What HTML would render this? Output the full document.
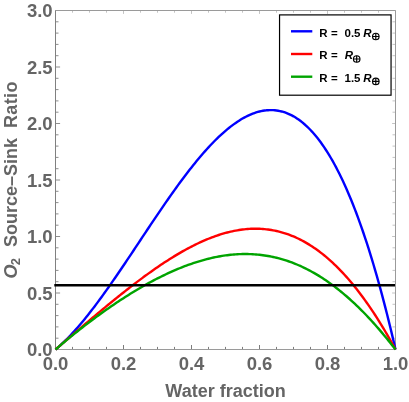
<!DOCTYPE html>
<html><head><meta charset="utf-8"><title>chart</title>
<style>
html,body{margin:0;padding:0;background:#fff;}
body{width:409px;height:402px;overflow:hidden;}
svg{display:block;font-family:"Liberation Sans",sans-serif;font-weight:bold;}
text{filter:grayscale(1);}
.tl text{font-size:18.5px;fill:#656565;}
.ax{font-size:18px;fill:#656565;white-space:pre;}
.lg text{font-size:11.5px;fill:#000;white-space:pre;}
</style></head><body>
<svg width="409" height="402" viewBox="0 0 409 402">
<rect width="409" height="402" fill="#fff"/>
<g fill="none" stroke-width="1">
<path d="M55.50,10.50 v3.40 M72.50,10.50 v2.20 M89.50,10.50 v2.20 M106.50,10.50 v2.20 M123.50,10.50 v3.40 M140.50,10.50 v2.20 M157.50,10.50 v2.20 M174.50,10.50 v2.20 M191.50,10.50 v3.40 M208.50,10.50 v2.20 M225.50,10.50 v2.20 M242.50,10.50 v2.20 M259.50,10.50 v3.40 M276.50,10.50 v2.20 M293.50,10.50 v2.20 M310.50,10.50 v2.20 M327.50,10.50 v3.40 M344.50,10.50 v2.20 M361.50,10.50 v2.20 M378.50,10.50 v2.20 M395.50,10.50 v3.40" stroke="#c4c4c4"/>
<path d="M395.50,349.50 h-3.40 M395.50,338.20 h-3.00 M395.50,326.90 h-3.00 M395.50,315.60 h-3.00 M395.50,304.30 h-3.00 M395.50,293.00 h-3.40 M395.50,281.70 h-3.00 M395.50,270.40 h-3.00 M395.50,259.10 h-3.00 M395.50,247.80 h-3.00 M395.50,236.50 h-3.40 M395.50,225.20 h-3.00 M395.50,213.90 h-3.00 M395.50,202.60 h-3.00 M395.50,191.30 h-3.00 M395.50,180.00 h-3.40 M395.50,168.70 h-3.00 M395.50,157.40 h-3.00 M395.50,146.10 h-3.00 M395.50,134.80 h-3.00 M395.50,123.50 h-3.40 M395.50,112.20 h-3.00 M395.50,100.90 h-3.00 M395.50,89.60 h-3.00 M395.50,78.30 h-3.00 M395.50,67.00 h-3.40 M395.50,55.70 h-3.00 M395.50,44.40 h-3.00 M395.50,33.10 h-3.00 M395.50,21.80 h-3.00 M395.50,10.50 h-3.40" stroke="#c4c4c4"/>
<path d="M55.50,349.50 v-4.50 M72.50,349.50 v-2.60 M89.50,349.50 v-2.60 M106.50,349.50 v-2.60 M123.50,349.50 v-4.50 M140.50,349.50 v-2.60 M157.50,349.50 v-2.60 M174.50,349.50 v-2.60 M191.50,349.50 v-4.50 M208.50,349.50 v-2.60 M225.50,349.50 v-2.60 M242.50,349.50 v-2.60 M259.50,349.50 v-4.50 M276.50,349.50 v-2.60 M293.50,349.50 v-2.60 M310.50,349.50 v-2.60 M327.50,349.50 v-4.50 M344.50,349.50 v-2.60 M361.50,349.50 v-2.60 M378.50,349.50 v-2.60 M395.50,349.50 v-4.50" stroke="#7c7c7c"/>
<path d="M55.50,349.50 h4.60 M55.50,338.20 h3.00 M55.50,326.90 h3.00 M55.50,315.60 h3.00 M55.50,304.30 h3.00 M55.50,293.00 h4.60 M55.50,281.70 h3.00 M55.50,270.40 h3.00 M55.50,259.10 h3.00 M55.50,247.80 h3.00 M55.50,236.50 h4.60 M55.50,225.20 h3.00 M55.50,213.90 h3.00 M55.50,202.60 h3.00 M55.50,191.30 h3.00 M55.50,180.00 h4.60 M55.50,168.70 h3.00 M55.50,157.40 h3.00 M55.50,146.10 h3.00 M55.50,134.80 h3.00 M55.50,123.50 h4.60 M55.50,112.20 h3.00 M55.50,100.90 h3.00 M55.50,89.60 h3.00 M55.50,78.30 h3.00 M55.50,67.00 h4.60 M55.50,55.70 h3.00 M55.50,44.40 h3.00 M55.50,33.10 h3.00 M55.50,21.80 h3.00 M55.50,10.50 h4.60" stroke="#8e8e8e"/>
<path d="M55.5,10.5 H395.5 V349.5 H55.5" stroke="#9a9a9a"/>
<path d="M55.5,10.5 V349.5" stroke="#808080"/>
</g>
<g fill="none" stroke-width="2.4" stroke-linejoin="round">
<path d="M55.50,349.50 L57.20,348.06 L58.90,346.58 L60.60,345.05 L62.30,343.48 L64.00,341.86 L65.70,340.19 L67.40,338.49 L69.10,336.75 L70.80,334.96 L72.50,333.14 L74.20,331.28 L75.90,329.38 L77.60,327.45 L79.30,325.48 L81.00,323.48 L82.70,321.45 L84.40,319.39 L86.10,317.29 L87.80,315.17 L89.50,313.02 L91.20,310.84 L92.90,308.63 L94.60,306.40 L96.30,304.14 L98.00,301.86 L99.70,299.56 L101.40,297.23 L103.10,294.89 L104.80,292.53 L106.50,290.14 L108.20,287.74 L109.90,285.32 L111.60,282.89 L113.30,280.44 L115.00,277.98 L116.70,275.51 L118.40,273.02 L120.10,270.52 L121.80,268.01 L123.50,265.49 L125.20,262.97 L126.90,260.43 L128.60,257.89 L130.30,255.35 L132.00,252.80 L133.70,250.24 L135.40,247.69 L137.10,245.13 L138.80,242.57 L140.50,240.01 L142.20,237.45 L143.90,234.89 L145.60,232.33 L147.30,229.78 L149.00,227.23 L150.70,224.69 L152.40,222.15 L154.10,219.62 L155.80,217.10 L157.50,214.58 L159.20,212.08 L160.90,209.58 L162.60,207.10 L164.30,204.63 L166.00,202.17 L167.70,199.72 L169.40,197.29 L171.10,194.88 L172.80,192.48 L174.50,190.10 L176.20,187.73 L177.90,185.39 L179.60,183.06 L181.30,180.76 L183.00,178.47 L184.70,176.21 L186.40,173.98 L188.10,171.76 L189.80,169.57 L191.50,167.41 L193.20,165.27 L194.90,163.16 L196.60,161.08 L198.30,159.03 L200.00,157.01 L201.70,155.01 L203.40,153.05 L205.10,151.12 L206.80,149.23 L208.50,147.37 L210.20,145.54 L211.90,143.75 L213.60,142.00 L215.30,140.28 L217.00,138.60 L218.70,136.96 L220.40,135.36 L222.10,133.80 L223.80,132.28 L225.50,130.81 L227.20,129.38 L228.90,127.99 L230.60,126.65 L232.30,125.35 L234.00,124.10 L235.70,122.90 L237.40,121.74 L239.10,120.64 L240.80,119.58 L242.50,118.57 L244.20,117.62 L245.90,116.72 L247.60,115.87 L249.30,115.08 L251.00,114.34 L252.70,113.66 L254.40,113.03 L256.10,112.47 L257.80,111.96 L259.50,111.51 L261.20,111.12 L262.90,110.79 L264.60,110.52 L266.30,110.32 L268.00,110.18 L269.70,110.10 L271.40,110.09 L273.10,110.15 L274.80,110.27 L276.50,110.47 L278.20,110.73 L279.90,111.06 L281.60,111.46 L283.30,111.93 L285.00,112.48 L286.70,113.10 L288.40,113.79 L290.10,114.56 L291.80,115.40 L293.50,116.33 L295.20,117.33 L296.90,118.41 L298.60,119.56 L300.30,120.80 L302.00,122.13 L303.70,123.53 L305.40,125.02 L307.10,126.59 L308.80,128.25 L310.50,129.99 L312.20,131.82 L313.90,133.74 L315.60,135.75 L317.30,137.85 L319.00,140.04 L320.70,142.32 L322.40,144.70 L324.10,147.17 L325.80,149.73 L327.50,152.39 L329.20,155.15 L330.90,158.01 L332.60,160.96 L334.30,164.02 L336.00,167.17 L337.70,170.43 L339.40,173.79 L341.10,177.26 L342.80,180.83 L344.50,184.50 L346.20,188.29 L347.90,192.18 L349.60,196.18 L351.30,200.29 L353.00,204.52 L354.70,208.85 L356.40,213.30 L358.10,217.86 L359.80,222.54 L361.50,227.34 L363.20,232.25 L364.90,237.29 L366.60,242.44 L368.30,247.71 L370.00,253.11 L371.70,258.63 L373.40,264.27 L375.10,270.04 L376.80,275.94 L378.50,281.96 L380.20,288.12 L381.90,294.40 L383.60,300.82 L385.30,307.36 L387.00,314.05 L388.70,320.86 L390.40,327.81 L392.10,334.90 L393.80,342.13 L395.50,349.50" stroke="#0000ff"/>
<path d="M55.50,349.50 L57.20,348.03 L58.90,346.56 L60.60,345.10 L62.30,343.63 L64.00,342.17 L65.70,340.70 L67.40,339.24 L69.10,337.78 L70.80,336.32 L72.50,334.86 L74.20,333.40 L75.90,331.95 L77.60,330.49 L79.30,329.04 L81.00,327.59 L82.70,326.14 L84.40,324.70 L86.10,323.26 L87.80,321.82 L89.50,320.38 L91.20,318.94 L92.90,317.51 L94.60,316.08 L96.30,314.66 L98.00,313.23 L99.70,311.82 L101.40,310.40 L103.10,308.99 L104.80,307.58 L106.50,306.18 L108.20,304.78 L109.90,303.39 L111.60,302.00 L113.30,300.62 L115.00,299.24 L116.70,297.87 L118.40,296.50 L120.10,295.14 L121.80,293.78 L123.50,292.44 L125.20,291.09 L126.90,289.76 L128.60,288.43 L130.30,287.11 L132.00,285.80 L133.70,284.49 L135.40,283.19 L137.10,281.90 L138.80,280.62 L140.50,279.35 L142.20,278.09 L143.90,276.83 L145.60,275.59 L147.30,274.35 L149.00,273.13 L150.70,271.92 L152.40,270.71 L154.10,269.52 L155.80,268.34 L157.50,267.16 L159.20,266.01 L160.90,264.86 L162.60,263.72 L164.30,262.60 L166.00,261.49 L167.70,260.39 L169.40,259.31 L171.10,258.24 L172.80,257.18 L174.50,256.14 L176.20,255.11 L177.90,254.10 L179.60,253.10 L181.30,252.12 L183.00,251.15 L184.70,250.20 L186.40,249.27 L188.10,248.35 L189.80,247.45 L191.50,246.57 L193.20,245.70 L194.90,244.85 L196.60,244.02 L198.30,243.21 L200.00,242.42 L201.70,241.64 L203.40,240.89 L205.10,240.15 L206.80,239.43 L208.50,238.74 L210.20,238.06 L211.90,237.41 L213.60,236.78 L215.30,236.16 L217.00,235.57 L218.70,235.01 L220.40,234.46 L222.10,233.94 L223.80,233.44 L225.50,232.96 L227.20,232.51 L228.90,232.08 L230.60,231.68 L232.30,231.30 L234.00,230.94 L235.70,230.61 L237.40,230.31 L239.10,230.03 L240.80,229.78 L242.50,229.55 L244.20,229.35 L245.90,229.18 L247.60,229.03 L249.30,228.91 L251.00,228.82 L252.70,228.76 L254.40,228.73 L256.10,228.73 L257.80,228.75 L259.50,228.80 L261.20,228.89 L262.90,229.00 L264.60,229.14 L266.30,229.32 L268.00,229.52 L269.70,229.76 L271.40,230.03 L273.10,230.33 L274.80,230.66 L276.50,231.02 L278.20,231.42 L279.90,231.84 L281.60,232.31 L283.30,232.80 L285.00,233.33 L286.70,233.89 L288.40,234.49 L290.10,235.12 L291.80,235.78 L293.50,236.48 L295.20,237.21 L296.90,237.98 L298.60,238.79 L300.30,239.63 L302.00,240.51 L303.70,241.42 L305.40,242.37 L307.10,243.36 L308.80,244.38 L310.50,245.44 L312.20,246.54 L313.90,247.67 L315.60,248.84 L317.30,250.06 L319.00,251.30 L320.70,252.59 L322.40,253.92 L324.10,255.28 L325.80,256.69 L327.50,258.13 L329.20,259.61 L330.90,261.13 L332.60,262.69 L334.30,264.29 L336.00,265.94 L337.70,267.62 L339.40,269.34 L341.10,271.10 L342.80,272.90 L344.50,274.75 L346.20,276.63 L347.90,278.55 L349.60,280.52 L351.30,282.53 L353.00,284.58 L354.70,286.67 L356.40,288.80 L358.10,290.97 L359.80,293.19 L361.50,295.45 L363.20,297.75 L364.90,300.09 L366.60,302.47 L368.30,304.90 L370.00,307.37 L371.70,309.88 L373.40,312.43 L375.10,315.03 L376.80,317.66 L378.50,320.35 L380.20,323.07 L381.90,325.83 L383.60,328.64 L385.30,331.49 L387.00,334.39 L388.70,337.33 L390.40,340.31 L392.10,343.33 L393.80,346.39 L395.50,349.50" stroke="#ff0000"/>
<path d="M55.50,349.50 L57.20,348.04 L58.90,346.58 L60.60,345.14 L62.30,343.70 L64.00,342.27 L65.70,340.86 L67.40,339.45 L69.10,338.05 L70.80,336.66 L72.50,335.28 L74.20,333.91 L75.90,332.55 L77.60,331.20 L79.30,329.85 L81.00,328.52 L82.70,327.19 L84.40,325.88 L86.10,324.57 L87.80,323.27 L89.50,321.98 L91.20,320.70 L92.90,319.43 L94.60,318.17 L96.30,316.91 L98.00,315.67 L99.70,314.43 L101.40,313.21 L103.10,311.99 L104.80,310.79 L106.50,309.59 L108.20,308.40 L109.90,307.22 L111.60,306.05 L113.30,304.89 L115.00,303.74 L116.70,302.60 L118.40,301.47 L120.10,300.35 L121.80,299.24 L123.50,298.14 L125.20,297.05 L126.90,295.97 L128.60,294.90 L130.30,293.84 L132.00,292.80 L133.70,291.76 L135.40,290.73 L137.10,289.71 L138.80,288.71 L140.50,287.72 L142.20,286.73 L143.90,285.76 L145.60,284.80 L147.30,283.86 L149.00,282.92 L150.70,281.99 L152.40,281.08 L154.10,280.18 L155.80,279.29 L157.50,278.42 L159.20,277.56 L160.90,276.71 L162.60,275.87 L164.30,275.05 L166.00,274.24 L167.70,273.44 L169.40,272.65 L171.10,271.88 L172.80,271.13 L174.50,270.38 L176.20,269.66 L177.90,268.94 L179.60,268.24 L181.30,267.56 L183.00,266.89 L184.70,266.23 L186.40,265.59 L188.10,264.97 L189.80,264.36 L191.50,263.76 L193.20,263.18 L194.90,262.62 L196.60,262.08 L198.30,261.55 L200.00,261.03 L201.70,260.54 L203.40,260.06 L205.10,259.59 L206.80,259.15 L208.50,258.72 L210.20,258.31 L211.90,257.92 L213.60,257.54 L215.30,257.18 L217.00,256.84 L218.70,256.52 L220.40,256.22 L222.10,255.94 L223.80,255.67 L225.50,255.43 L227.20,255.20 L228.90,255.00 L230.60,254.81 L232.30,254.64 L234.00,254.49 L235.70,254.37 L237.40,254.26 L239.10,254.17 L240.80,254.11 L242.50,254.06 L244.20,254.04 L245.90,254.03 L247.60,254.05 L249.30,254.09 L251.00,254.15 L252.70,254.24 L254.40,254.34 L256.10,254.47 L257.80,254.62 L259.50,254.79 L261.20,254.98 L262.90,255.20 L264.60,255.44 L266.30,255.70 L268.00,255.99 L269.70,256.30 L271.40,256.63 L273.10,256.98 L274.80,257.36 L276.50,257.77 L278.20,258.19 L279.90,258.64 L281.60,259.12 L283.30,259.62 L285.00,260.14 L286.70,260.69 L288.40,261.26 L290.10,261.86 L291.80,262.48 L293.50,263.13 L295.20,263.80 L296.90,264.50 L298.60,265.23 L300.30,265.97 L302.00,266.75 L303.70,267.55 L305.40,268.37 L307.10,269.22 L308.80,270.10 L310.50,271.00 L312.20,271.93 L313.90,272.88 L315.60,273.86 L317.30,274.87 L319.00,275.90 L320.70,276.96 L322.40,278.05 L324.10,279.16 L325.80,280.30 L327.50,281.46 L329.20,282.65 L330.90,283.87 L332.60,285.11 L334.30,286.38 L336.00,287.68 L337.70,289.00 L339.40,290.35 L341.10,291.73 L342.80,293.13 L344.50,294.56 L346.20,296.01 L347.90,297.50 L349.60,299.00 L351.30,300.54 L353.00,302.10 L354.70,303.69 L356.40,305.30 L358.10,306.94 L359.80,308.61 L361.50,310.30 L363.20,312.02 L364.90,313.76 L366.60,315.54 L368.30,317.33 L370.00,319.15 L371.70,321.00 L373.40,322.87 L375.10,324.77 L376.80,326.70 L378.50,328.65 L380.20,330.62 L381.90,332.62 L383.60,334.65 L385.30,336.70 L387.00,338.77 L388.70,340.87 L390.40,342.99 L392.10,345.14 L393.80,347.31 L395.50,349.50" stroke="#00a400"/>
<path d="M54.3,285.2 H395" stroke="#000"/>
</g>

<g class="tl"><text x="55.50" y="370.3" text-anchor="middle">0.0</text><text x="123.50" y="370.3" text-anchor="middle">0.2</text><text x="191.50" y="370.3" text-anchor="middle">0.4</text><text x="259.50" y="370.3" text-anchor="middle">0.6</text><text x="327.50" y="370.3" text-anchor="middle">0.8</text><text x="395.50" y="370.3" text-anchor="middle">1.0</text><text x="52.6" y="356.30" text-anchor="end">0.0</text><text x="52.6" y="299.80" text-anchor="end">0.5</text><text x="52.6" y="243.30" text-anchor="end">1.0</text><text x="52.6" y="186.80" text-anchor="end">1.5</text><text x="52.6" y="130.30" text-anchor="end">2.0</text><text x="52.6" y="73.80" text-anchor="end">2.5</text><text x="52.6" y="17.30" text-anchor="end">3.0</text></g>
<text class="ax" x="225.5" y="397" text-anchor="middle">Water fraction</text>
<text class="ax" transform="translate(16.5,180) rotate(-90)" x="-98.6"><tspan font-style="italic">O</tspan><tspan font-size="13px" dy="3" dx="-0.6">2</tspan><tspan dy="-3" dx="0.9">  Source–Sink  </tspan><tspan letter-spacing="0.35">Ratio</tspan></text>
<rect x="279.55" y="14.9" width="111.5" height="80.3" fill="#fff" stroke="#000" stroke-width="1.2"/>
<g stroke-width="2.4" fill="none">
<path d="M291,31.3 H312.3" stroke="#0000ff"/>
<path d="M291,54 H312.3" stroke="#ff0000"/>
<path d="M291,76.7 H312.3" stroke="#00a400"/>
</g>
<g class="lg">
<text x="319.3" y="36.5">R</text><text x="330.9" y="36.5">=</text><text x="344.5" y="36.5">0.5</text><text x="363.3" y="36.5" font-style="italic">R</text>
<text x="319.3" y="58.7">R</text><text x="330.9" y="58.7">=</text><text x="344.7" y="58.7" font-style="italic">R</text>
<text x="319.3" y="81.5">R</text><text x="330.9" y="81.5">=</text><text x="344.5" y="81.5">1.5</text><text x="363.3" y="81.5" font-style="italic">R</text>
</g>
<g fill="none" stroke="#000" stroke-width="1.2">
<circle cx="375.8" cy="36.5" r="3.25"/><path d="M372.55,36.5 h6.5 M375.8,33.25 v6.5"/>
<circle cx="356.7" cy="59" r="3.25"/><path d="M353.45,59 h6.5 M356.7,55.75 v6.5"/>
<circle cx="375.8" cy="81.4" r="3.25"/><path d="M372.55,81.4 h6.5 M375.8,78.15 v6.5"/>
</g>
</svg>
</body></html>
